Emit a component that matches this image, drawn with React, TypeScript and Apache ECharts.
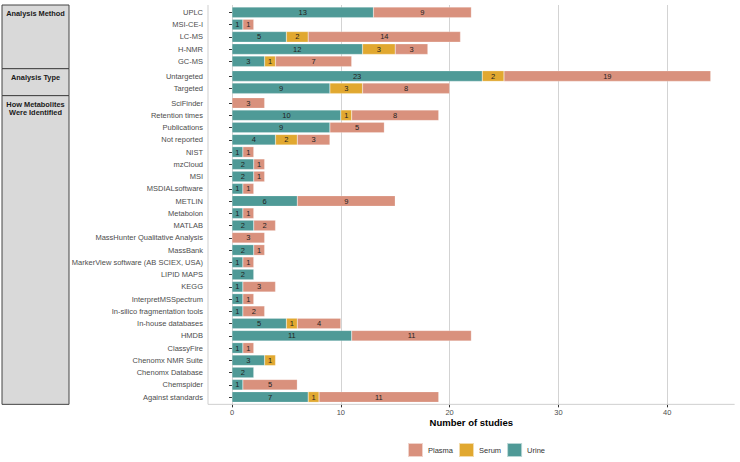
import React, { useEffect, useRef } from "react";
import * as echarts from "echarts";

// ---- data ----
const methodCategories = ["UPLC", "MSI-CE-I", "LC-MS", "H-NMR", "GC-MS"];
const methodUrine = [13, 1, 5, 12, 3];
const methodSerum = [0, 0, 2, 3, 1];
const methodPlasma = [9, 1, 14, 3, 7];

const typeCategories = ["Untargeted", "Targeted"];
const typeUrine = [23, 9];
const typeSerum = [2, 3];
const typePlasma = [19, 8];

const idCategories = [
  "SciFinder", "Retention times", "Publications", "Not reported", "NIST", "mzCloud", "MSI",
  "MSDIALsoftware", "METLIN", "Metabolon", "MATLAB", "MassHunter Qualitative Analysis", "MassBank",
  "MarkerView software (AB SCIEX, USA)", "LIPID MAPS", "KEGG", "InterpretMSSpectrum",
  "In-silico fragmentation tools", "In-house databases", "HMDB", "ClassyFire", "Chenomx NMR Suite",
  "Chenomx Database", "Chemspider", "Against standards",
];
const idUrine = [0, 10, 9, 4, 1, 2, 2, 1, 6, 1, 2, 0, 2, 1, 2, 1, 1, 1, 5, 11, 1, 3, 2, 1, 7];
const idSerum = [0, 1, 0, 2, 0, 0, 0, 0, 0, 0, 0, 0, 0, 0, 0, 0, 0, 0, 1, 0, 0, 1, 0, 0, 1];
const idPlasma = [3, 8, 5, 3, 1, 1, 1, 1, 9, 1, 2, 3, 1, 1, 0, 3, 1, 2, 4, 11, 1, 0, 0, 5, 11];

const panelLabels = ["Analysis Method", "Analysis Type", "How Metabolites\nWere Identified"];
const xTicks = [0, 10, 20, 30, 40];
const legendNames = ["Plasma", "Serum", "Urine"];

const COLORS: Record<string, string> = { Urine: "#4F9A97", Serum: "#E1A830", Plasma: "#D9917D" };
const FONT = "Liberation Sans, Arial, sans-serif";

export default function App() {
  const ref = useRef<HTMLDivElement>(null);
  useEffect(() => {
    document.body.style.margin = "0";
    const chart = echarts.init(ref.current!, undefined, { renderer: "svg" });

    const U = 12.25; // px per category row
    const PX = 10.88; // px per unit of x
    const X0 = 232; // x of value 0
    const TOP = 5;
    const XMAX = 46.2;

    const panels = [
      { cats: methodCategories, urine: methodUrine, serum: methodSerum, plasma: methodPlasma },
      { cats: typeCategories, urine: typeUrine, serum: typeSerum, plasma: typePlasma },
      { cats: idCategories, urine: idUrine, serum: idSerum, plasma: idPlasma },
    ];
    let cursor = TOP;
    const layout = panels.map((p) => {
      const h = (p.cats.length + 0.2) * U;
      const l = { top: cursor, height: h };
      cursor += h;
      return l;
    });
    const bottom = cursor;

    const grids: any[] = [];
    const xAxes: any[] = [];
    const yAxes: any[] = [];
    const series: any[] = [];

    panels.forEach((p, i) => {
      grids.push({ left: X0, top: layout[i].top + 0.1 * U, height: p.cats.length * U, width: XMAX * PX, containLabel: false });
      xAxes.push({ gridIndex: i, type: "value", min: 0, max: XMAX, show: false, splitLine: { show: false } });
      yAxes.push({
        gridIndex: i,
        type: "category",
        data: p.cats,
        inverse: true,
        offset: X0 - 208,
        axisLine: { show: false },
        axisTick: { show: true, length: 3, alignWithLabel: true, lineStyle: { color: "#333", width: 1 } },
        axisLabel: { fontSize: 7.5, color: "#4d4d4d", margin: 5, fontFamily: FONT },
        splitLine: { show: false },
      });
      const sets: [string, number[]][] = [["Urine", p.urine], ["Serum", p.serum], ["Plasma", p.plasma]];
      sets.forEach(([name, vals]) => {
        series.push({
          name,
          type: "bar",
          xAxisIndex: i,
          yAxisIndex: i,
          stack: "s" + i,
          barWidth: 10.6,
          data: vals.map((v) => (v ? v : null)),
          itemStyle: { color: COLORS[name], borderColor: "rgba(255,255,255,0.6)", borderWidth: 0.4 },
          label: {
            show: true,
            position: "inside",
            fontSize: 7.5,
            color: "#222",
            fontFamily: FONT,
            formatter: (q: any) => (q.value ? String(q.value) : ""),
          },
        });
      });
    });

    // background grid for the shared x axis and gridlines
    grids.push({ left: X0, top: TOP, height: bottom - TOP, width: xTicks[xTicks.length - 1] * PX });
    xAxes.push({
      gridIndex: 3,
      type: "value",
      min: xTicks[0],
      max: xTicks[xTicks.length - 1],
      interval: 10,
      axisLine: { show: false },
      axisTick: { show: true, length: 3, lineStyle: { color: "#333" } },
      axisLabel: { fontSize: 7.5, color: "#4d4d4d", margin: 4, fontFamily: FONT },
      splitLine: { show: true, lineStyle: { color: "#d3d3d3", width: 1 } },
    });
    yAxes.push({ gridIndex: 3, type: "value", min: 0, max: 1, show: false, splitLine: { show: false } });
    series.push({ type: "scatter", xAxisIndex: 3, yAxisIndex: 3, data: [], silent: true });

    const graphic: any[] = [
      { type: "line", shape: { x1: 208, y1: TOP, x2: 208, y2: bottom }, style: { stroke: "#cfcfcf", lineWidth: 1 }, z: 1 },
      { type: "line", shape: { x1: 208, y1: bottom, x2: X0 + XMAX * PX, y2: bottom }, style: { stroke: "#cfcfcf", lineWidth: 1 }, z: 1 },
      {
        type: "text",
        x: 208 + (X0 + XMAX * PX - 208) / 2,
        y: 422.5,
        style: { text: "Number of studies", fontSize: 9.5, fontWeight: "bold", fill: "#000", align: "center", verticalAlign: "middle", fontFamily: FONT },
      },
    ];
    panelLabels.forEach((lab, i) => {
      graphic.push({
        type: "rect",
        shape: { x: 2, y: layout[i].top, width: 67, height: layout[i].height },
        style: { fill: "#d9d9d9", stroke: "#444", lineWidth: 1 },
      });
      graphic.push({
        type: "text",
        x: 35.5,
        y: layout[i].top + 4,
        style: { text: lab, fontSize: 7.4, fontWeight: "bold", fill: "#1a1a1a", align: "center", verticalAlign: "top", lineHeight: 8.7, fontFamily: FONT },
      });
    });

    chart.setOption({
      animation: false,
      grid: grids,
      xAxis: xAxes,
      yAxis: yAxes,
      series,
      legend: {
        data: legendNames,
        left: 407,
        top: 442,
        padding: 0,
        itemWidth: 15,
        itemHeight: 14,
        itemGap: 5,
        icon: "rect",
        textStyle: { fontSize: 7.5, color: "#333", fontFamily: FONT },
      },
      graphic,
    });
    return () => chart.dispose();
  }, []);
  return <div ref={ref} style={{ width: 740, height: 462 }} />;
}
